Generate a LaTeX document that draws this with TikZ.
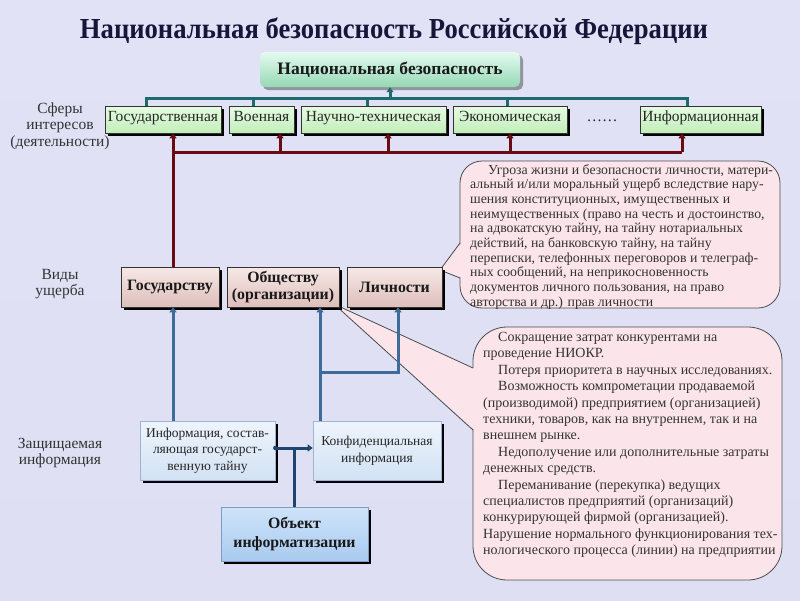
\documentclass[tikz,border=0pt]{standalone}
\usepackage{fontspec}
\setmainfont{Liberation Serif}
\usetikzlibrary{shadows,arrows.meta}
\definecolor{bgtop}{HTML}{E2E2F6}
\definecolor{bgmid}{HTML}{F8F8FD}
\definecolor{bgbot}{HTML}{DFDFF4}
\definecolor{titlec}{HTML}{16163A}
\definecolor{tealc}{HTML}{1E6A6E}
\definecolor{maroonc}{HTML}{6A0A12}
\definecolor{blueup}{HTML}{3E6C9A}
\definecolor{bluedk}{HTML}{1F4470}
\definecolor{pinkc}{HTML}{FBE5EA}
\definecolor{txtc}{HTML}{333333}
\definecolor{nbtop}{HTML}{E4FBF0}
\definecolor{nbbot}{HTML}{96D8B4}
\definecolor{sptop}{HTML}{E6FCE2}
\definecolor{spbot}{HTML}{C2EDBA}
\definecolor{dmtop}{HTML}{F6E8E6}
\definecolor{dmbot}{HTML}{DDBFBB}
\definecolor{ibdraw}{HTML}{9DB3D0}
\definecolor{ibtop}{HTML}{EEF4FC}
\definecolor{ibbot}{HTML}{D2E2F4}
\definecolor{obdraw}{HTML}{7D9CC4}
\definecolor{obtop}{HTML}{CFE3FA}
\definecolor{obbot}{HTML}{A9CBEF}
\tikzset{
  boxshadow/.style={drop shadow={shadow xshift=3pt, shadow yshift=-3pt, opacity=1, fill=black}},
  topbox/.style={rounded corners=5pt, top color=nbtop, bottom color=nbbot,
    drop shadow={shadow xshift=3pt, shadow yshift=-3pt, opacity=0.35, fill=black},
    minimum width=260pt, minimum height=35pt, inner sep=0pt,
    font=\fontsize{17.5}{20}\selectfont\bfseries, text=black!90},
  sphere/.style={draw=black!80, line width=0.6pt, top color=sptop, bottom color=spbot,
    boxshadow, inner sep=0pt, minimum height=27pt, text height=0.68em, text depth=0.22em,
    font=\fontsize{15.5}{18}\selectfont, text=black!85},
  dmg/.style={draw=black!80, line width=0.6pt, top color=dmtop, bottom color=dmbot,
    boxshadow, inner sep=0pt, minimum height=40pt, align=center,
    font=\fontsize{15.8}{17.5}\selectfont\bfseries, text=black!90},
  infob/.style={draw=ibdraw, line width=0.6pt, top color=ibtop, bottom color=ibbot,
    boxshadow, inner sep=0pt, minimum height=59pt, align=center,
    font=\fontsize{13.5}{16.5}\selectfont, text=black!85},
  objb/.style={draw=obdraw, line width=0.6pt, top color=obtop, bottom color=obbot,
    boxshadow, inner sep=0pt, minimum height=54pt, minimum width=147pt, align=center,
    font=\fontsize{15.8}{19.5}\selectfont\bfseries, text=black!90},
  sidelbl/.style={align=center, font=\fontsize{15.5}{16.5}\selectfont, text=txtc},
  tealline/.style={draw=tealc, line width=3pt},
  redline/.style={draw=maroonc, line width=3pt},
  bline/.style={draw=blueup, line width=3pt},
  bdline/.style={draw=bluedk, line width=3pt},
  tip/.style={-{Triangle[length=5pt,width=7pt]}},
  callout/.style={draw=black!70, line width=0.8pt, fill=pinkc},
  ctext/.style={anchor=north west, inner sep=0pt, align=left, text=txtc},
}
\begin{document}
\begin{tikzpicture}[x=1pt,y=-1pt]
\useasboundingbox (0,0) rectangle (800,600);
\shade[top color=bgtop, middle color=bgmid, bottom color=bgbot] (0,0) rectangle (800,600);

% title
\node[font=\fontsize{29}{30}\selectfont\bfseries, text=titlec] (title) at (394,31)
  {\resizebox{628pt}{\height}{Национальная безопасность Российской Федерации}};

% callouts (drawn first)
\draw[callout, rounded corners=22pt] (460,161) rectangle (780,308);
\fill[pinkc] (440,270) -- (461,243.5) -- (461,277.5) -- cycle;
\draw[black!70, line width=0.8pt] (460,243) -- (440,270) -- (460,278);

\draw[callout, rounded corners=34pt] (473,327) rectangle (782,580);
\fill[pinkc] (334,304) -- (474,368.5) -- (474,429.5) -- cycle;
\draw[black!70, line width=0.8pt] (473,368) -- (334,304) -- (473,430);

\node[ctext, font=\fontsize{13.8}{14.7}\selectfont] (c1) at (470,164)
 {\hspace*{18pt}Угроза жизни и безопасности личности, матери-\\
альный и/или моральный ущерб вследствие нару-\\
шения конституционных, имущественных и\\
неимущественных (право на честь и достоинство,\\
на адвокатскую тайну, на тайну нотариальных\\
действий, на банковскую тайну, на тайну\\
переписки, телефонных переговоров и телеграф-\\
ных сообщений, на неприкосновенность\\
документов личного пользования, на право\\
авторства и др.) прав личности};

\node[ctext, font=\fontsize{14}{16.4}\selectfont] (c2) at (483,332)
 {\hspace*{15pt}Сокращение затрат конкурентами на\\
проведение НИОКР.\\
\hspace*{15pt}Потеря приоритета в научных исследованиях.\\
\hspace*{15pt}Возможность компрометации продаваемой\\
(производимой) предприятием (организацией)\\
техники, товаров, как на внутреннем, так и на\\
внешнем рынке.\\
\hspace*{15pt}Недополучение или дополнительные затраты\\
денежных средств.\\
\hspace*{15pt}Переманивание (перекупка) ведущих\\
специалистов предприятий (организаций)\\
конкурирующей фирмой (организацией).\\
Нарушение нормального функционирования тех-\\
нологического процесса (линии) на предприятии};

% side labels
\node[sidelbl] (l1) at (60,126) {Сферы\\интересов\\(деятельности)};
\node[sidelbl] (l2) at (60,284) {Виды\\ущерба};
\node[sidelbl] (l3) at (60,453) {Защищаемая\\информация};

% top node
\node[topbox] (nb) at (390,69.5) {Национальная безопасность};

% spheres
\node[sphere, minimum width=116pt] (sg) at (163,119.5) {Государственная};
\node[sphere, minimum width=65pt]  (sv) at (261.5,119.5) {Военная};
\node[sphere, minimum width=145pt] (sn) at (373.5,119.5) {Научно-техническая};
\node[sphere, minimum width=114pt] (se) at (510,119.5) {Экономическая};
\node[sphere, minimum width=121pt] (si) at (700.5,119.5) {Информационная};
\node[font=\fontsize{15.5}{18}\selectfont, text=black!85] (dots) at (602,121) {……};

% damage
\node[dmg, minimum width=98pt]  (dg) at (170,287) {Государству};
\node[dmg, minimum width=112pt] (do) at (283,287) {Обществу\\(организации)};
\node[dmg, minimum width=95pt]  (dl) at (394.5,287) {Личности};

% info
\node[infob, minimum width=135pt] (ig) at (207.5,450.5) {Информация, состав-\\ляющая государст-\\венную тайну};
\node[infob, minimum width=128pt] (ic) at (377,450.5) {Конфиденциальная\\информация};
\node[objb] (ob) at (294.5,534) {Объект\\информатизации};

% teal bus
\coordinate (tb) at (390,98);
\draw[tealline] (sg.north -| 146,0) -- (tb -| 146,0) -- (tb -| 687,0) -- (si.north -| 687,0);
\draw[tealline] (tb -| 253,0) -- (sv.north -| 253,0);
\draw[tealline] (tb -| 367,0) -- (sn.north -| 367,0);
\draw[tealline] (tb -| 507,0) -- (se.north -| 507,0);
\draw[tealline, tip] (tb) -- (nb.south);

% red bus
\coordinate (rb) at (400,152);
\draw[redline, tip] (dg.north -| 173,0) -- (sg.south -| 173,0);
\draw[redline] (rb -| 171.5,0) -- (rb -| 682,0);
\draw[redline, tip] (rb -| 280,0) -- (sv.south -| 280,0);
\draw[redline, tip] (rb -| 388,0) -- (sn.south -| 388,0);
\draw[redline, tip] (rb -| 510,0) -- (se.south -| 510,0);
\draw[redline, tip] (rb -| 682,0) -- (si.south -| 682,0);

% blue connectors
\draw[bline, tip] (ig.north -| 173,0) -- (dg.south -| 173,0);
\draw[bline, tip] (ic.north -| 320,0) -- (do.south -| 320,0);
\coordinate (br) at (320,372);
\draw[bline, tip] (br) -| (dl.south -| 398,0);
\coordinate (hb) at (294.5,448);
\draw[bdline, tip] (ig.east |- hb) -- (ic.west |- hb);
\fill[bluedk] (ig.east |- hb) circle (2.2pt);
\draw[bdline] (ob.north) -- (hb);
\end{tikzpicture}
\end{document}
